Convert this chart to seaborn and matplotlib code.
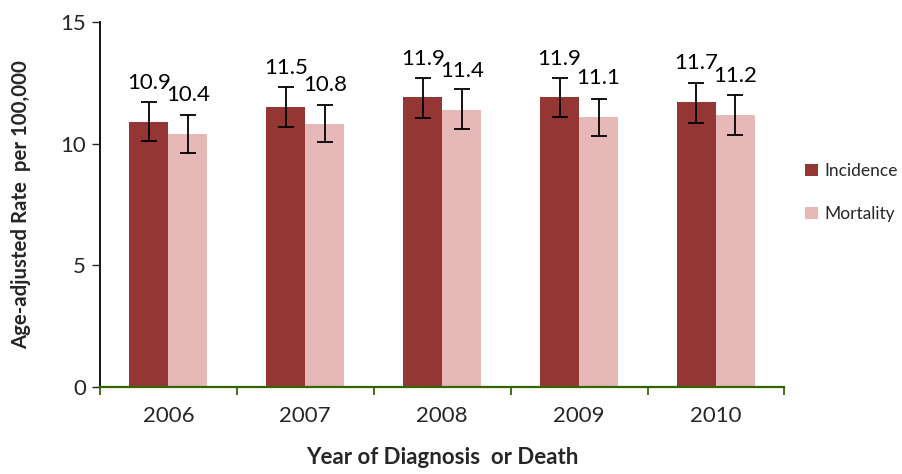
import pandas as pd
import matplotlib.pyplot as plt
import seaborn as sns

# Chart data
years = ['2006', '2007', '2008', '2009', '2010']
incidence = [10.9, 11.5, 11.9, 11.9, 11.7]
mortality = [10.4, 10.8, 11.4, 11.1, 11.2]
incidence_lo = [10.1, 10.7, 11.05, 11.1, 10.85]
incidence_hi = [11.7, 12.35, 12.7, 12.7, 12.5]
mortality_lo = [9.6, 10.05, 10.6, 10.3, 10.35]
mortality_hi = [11.2, 11.6, 12.25, 11.85, 12.0]

colors = {'Incidence': '#943634', 'Mortality': '#E6B9B8'}


def make_chart():
    df = pd.DataFrame({
        'Year': years * 2,
        'Rate': incidence + mortality,
        'Type': ['Incidence'] * len(years) + ['Mortality'] * len(years),
    })

    sns.set_style('white')
    plt.rcParams['font.family'] = ['Lato', 'DejaVu Sans']

    fig = plt.figure(figsize=(9.03, 4.74), dpi=100)
    ax = fig.add_axes([0.1107, 0.1835, 0.758, 0.770])

    sns.barplot(data=df, x='Year', y='Rate', hue='Type', palette=colors,
                errorbar=None, width=0.57, saturation=1, linewidth=0, ax=ax)

    # error bars and value labels, placed on the drawn bars
    los = incidence_lo + mortality_lo
    his = incidence_hi + mortality_hi
    vals = incidence + mortality
    bars = [p for p in ax.patches if p.get_height() > 0][:len(vals)]
    for bar, v, lo, hi in zip(bars, vals, los, his):
        cx = bar.get_x() + bar.get_width() / 2
        ax.errorbar(cx, v, yerr=[[v - lo], [hi - v]], fmt='none',
                    ecolor='black', elinewidth=1.3, capsize=6, capthick=1.3)
        ax.text(cx, v + 1.35, f'{v:.1f}', ha='center', va='baseline',
                fontsize=16, color='black')

    ax.set_ylim(0, 15)
    ax.set_yticks([0, 5, 10, 15])
    ax.set_xlim(-0.5, len(years) - 0.5)
    ax.tick_params(axis='y', labelsize=16, length=6, width=1, direction='out',
                   left=True, pad=4)
    ax.tick_params(axis='x', labelsize=16, length=0, pad=14)

    # category boundary ticks on the x axis
    ax.set_xticks([i - 0.5 for i in range(len(years) + 1)], minor=True)
    ax.tick_params(axis='x', which='minor', length=6, width=1.3,
                   color='#336600', direction='out', bottom=True)

    for side in ['top', 'right']:
        ax.spines[side].set_visible(False)
    ax.spines['left'].set_color('black')
    ax.spines['left'].set_linewidth(1.3)
    ax.spines['bottom'].set_color('#336600')
    ax.spines['bottom'].set_linewidth(1.6)

    ax.set_ylabel('Age-adjusted Rate  per 100,000', fontsize=14.7,
                  fontweight='bold')
    ax.set_xlabel('Year of Diagnosis  or Death', fontsize=16,
                  fontweight='bold')
    ax.yaxis.set_label_coords(-0.1, 0.5)
    ax.xaxis.set_label_coords(0.5, -0.163)

    leg = ax.legend(loc='center left', bbox_to_anchor=(1.03, 0.533),
                    frameon=False, fontsize=12.5, handlelength=0.75,
                    handleheight=0.75, labelspacing=1.55, handletextpad=0.35,
                    borderaxespad=0, borderpad=0)
    leg.set_title(None)

    fig.savefig('out.png', dpi=100)
    plt.close(fig)


if __name__ == '__main__':
    make_chart()
